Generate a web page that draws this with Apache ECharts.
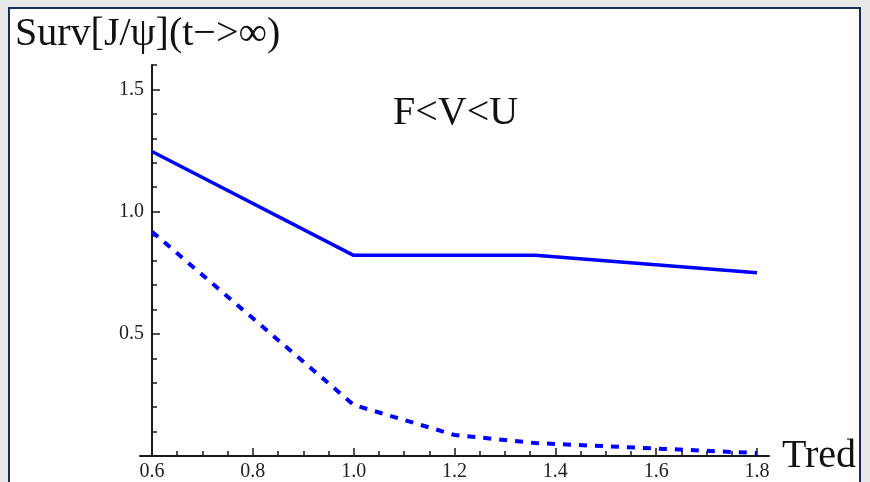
<!DOCTYPE html>
<html>
<head>
<meta charset="utf-8">
<script src="https://cdn.jsdelivr.net/npm/echarts@6/dist/echarts.min.js"></script>
<style>
html,body{margin:0;padding:0;background:#e9e9e9;}
#c{width:870px;height:482px;}
</style>
</head>
<body>
<div id="c"></div>
<script>
// Data
const tredSolid = [0.6, 1.0, 1.36, 1.8];
const survSolid = [1.246, 0.821, 0.821, 0.75];
const tredDashed = [0.6, 1.0, 1.2, 1.36, 1.8];
const survDashed = [0.918, 0.209, 0.086, 0.053, 0.012];
const titleText = 'Surv[J/\u03c8](t\u2212>\u221e)';
const annotation = 'F<V<U';
const xName = 'Tred';

const serif = "'Liberation Serif', 'DejaVu Serif', serif";
const axisColor = '#1a1a1a';
const blue = '#0000ff';

const chart = echarts.init(document.getElementById('c'), null, {renderer: 'canvas'});
chart.setOption({
  backgroundColor: '#e9e9e9',
  animation: false,
  graphic: [{
    type: 'rect', z: -100, silent: true,
    shape: {x: 9, y: 8, width: 851, height: 480},
    style: {fill: '#ffffff', stroke: '#1b2d5c', lineWidth: 2}
  }],
  title: [
    {text: titleText, left: 10, top: 9,
     textStyle: {fontFamily: serif, fontSize: 40, fontWeight: 'normal', color: '#111'}},
    {text: annotation, left: 388, top: 88,
     textStyle: {fontFamily: serif, fontSize: 40, fontWeight: 'normal', color: '#111'}}
  ],
  grid: [
    {left: 152, right: 113, top: 65, bottom: 26},
    {left: 140, right: 101, top: 65, bottom: 26}
  ],
  xAxis: [
    {gridIndex: 0, type: 'value', position: 'bottom', min: 0.6, max: 1.8, interval: 0.2,
     axisLine: {show: false}, splitLine: {show: false},
     axisTick: {show: true, inside: true, length: 8, lineStyle: {color: axisColor, width: 1.5}},
     axisLabel: {show: true, margin: 6, fontFamily: serif, fontSize: 20, color: '#222',
       formatter: v => v.toFixed(1)}},
    {gridIndex: 0, type: 'value', position: 'bottom', min: 0.6, max: 1.8, interval: 0.05,
     axisLine: {show: false}, splitLine: {show: false},
     axisTick: {show: true, inside: true, length: 5, lineStyle: {color: axisColor, width: 1.5}},
     axisLabel: {show: false}},
    {gridIndex: 1, type: 'value', position: 'bottom', min: 0, max: 1,
     axisLine: {show: true, lineStyle: {color: axisColor, width: 2}},
     axisTick: {show: false}, axisLabel: {show: false}, splitLine: {show: false},
     name: xName, nameLocation: 'end', nameGap: 13,
     nameTextStyle: {fontFamily: serif, fontSize: 40, color: '#111', verticalAlign: 'middle', padding: [0, 0, 10, 0]}}
  ],
  yAxis: [
    {gridIndex: 0, type: 'value', position: 'left', min: 0, max: 1.6, interval: 0.5,
     axisLine: {show: true, lineStyle: {color: axisColor, width: 2}}, splitLine: {show: false},
     axisTick: {show: true, inside: true, length: 8, lineStyle: {color: axisColor, width: 1.5}},
     axisLabel: {show: true, margin: 8, fontFamily: serif, fontSize: 20, color: '#222',
       showMinLabel: false, showMaxLabel: false,
       formatter: v => v.toFixed(1)}},
    {gridIndex: 0, type: 'value', position: 'left', min: 0, max: 1.6, interval: 0.1,
     axisLine: {show: false}, splitLine: {show: false},
     axisTick: {show: true, inside: true, length: 5, lineStyle: {color: axisColor, width: 1.5}},
     axisLabel: {show: false}},
    {gridIndex: 1, type: 'value', show: false, min: 0, max: 1}
  ],
  series: [
    {type: 'line', xAxisIndex: 0, yAxisIndex: 0, symbol: 'none',
     data: tredSolid.map((x, i) => [x, survSolid[i]]),
     lineStyle: {color: blue, width: 3.5}},
    {type: 'line', xAxisIndex: 0, yAxisIndex: 0, symbol: 'none',
     data: tredDashed.map((x, i) => [x, survDashed[i]]),
     lineStyle: {color: blue, width: 4, type: [8, 8]}}
  ]
});
</script>
</body>
</html>
